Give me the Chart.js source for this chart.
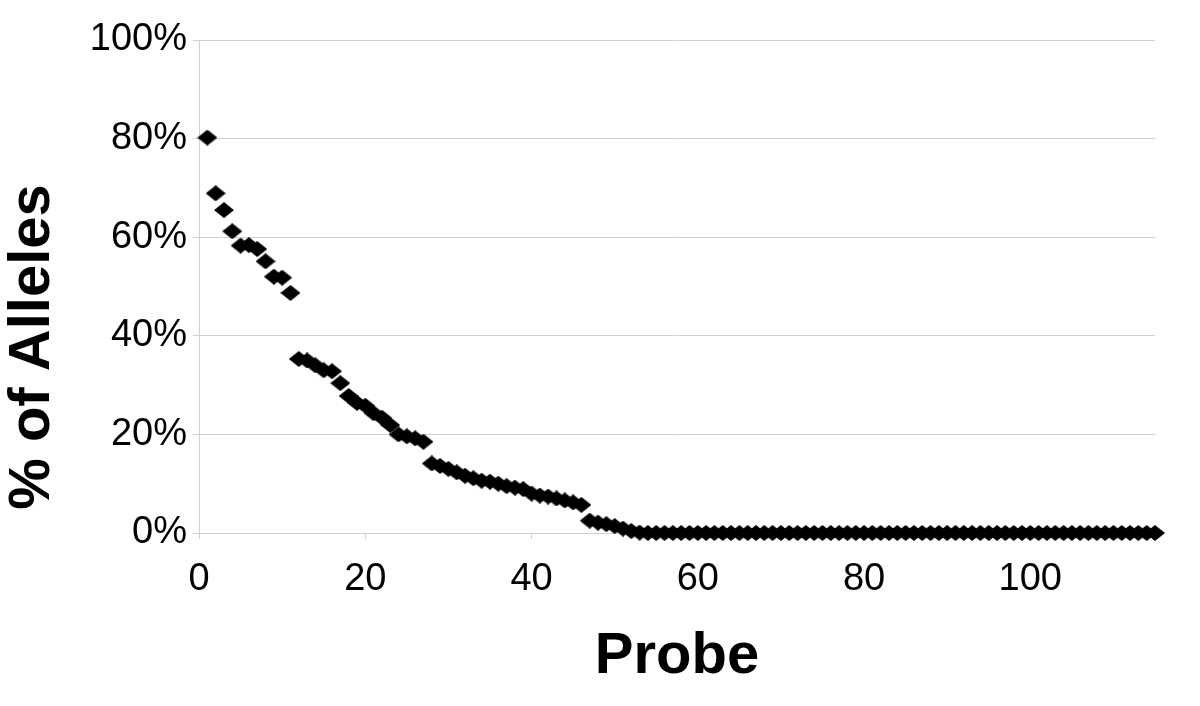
<!DOCTYPE html>
<html>
<head>
<meta charset="utf-8">
<script src="https://cdn.jsdelivr.net/npm/chart.js@4/dist/chart.umd.min.js"></script>
<style>
  body { margin: 0; background: #fff; }
  #wrap { width: 1200px; height: 706px; }
</style>
</head>
<body>
<div id="wrap"><canvas id="allelesChart" width="1200" height="706"></canvas></div>
<script>
// % of alleles detected by each probe, probes numbered 1..115 in order
const alleleValues = [
  80.2, 68.9, 65.5, 61.2, 58.3, 58.4, 57.6, 55.1, 52.0, 51.8,
  48.7, 35.3, 35.0, 34.0, 33.0, 32.8, 30.4, 27.8, 26.4, 25.8,
  24.3, 23.4, 21.9, 20.0, 19.6, 19.2, 18.5, 14.1, 13.6, 13.0,
  12.3, 11.6, 11.1, 10.6, 10.4, 10.0, 9.5, 9.2, 8.9, 8.0,
  7.6, 7.4, 7.0, 6.6, 6.2, 5.7, 2.5, 2.1, 1.8, 1.4,
  0.9, 0.4, 0.1, 0, 0, 0, 0, 0, 0, 0,
  0, 0, 0, 0, 0, 0, 0, 0, 0, 0,
  0, 0, 0, 0, 0, 0, 0, 0, 0, 0,
  0, 0, 0, 0, 0, 0, 0, 0, 0, 0,
  0, 0, 0, 0, 0, 0, 0, 0, 0, 0,
  0, 0, 0, 0, 0, 0, 0, 0, 0, 0,
  0, 0, 0, 0, 0
];
const xTicks = [0, 20, 40, 60, 80, 100];
const yTicks = [0, 20, 40, 60, 80, 100];
const xTitle = 'Probe';
const yTitle = '% of Alleles';

const FONT = "'Liberation Sans', Arial, sans-serif";
const GRID = '#d0d0d0';

// black diamond marker, a bit wider than tall like the original
const diamond = document.createElement('canvas');
diamond.width = 20;
diamond.height = 16;
const dctx = diamond.getContext('2d');
dctx.fillStyle = '#000';
dctx.beginPath();
dctx.moveTo(10, 0);
dctx.lineTo(20, 8);
dctx.lineTo(10, 16);
dctx.lineTo(0, 8);
dctx.closePath();
dctx.fill();

const points = alleleValues.map((v, i) => ({ x: i + 1, y: v }));

// rotated y axis title, placed like the original (a little below the plot centre)
const yTitlePlugin = {
  id: 'yTitle',
  afterDraw(chart) {
    const c = chart.ctx;
    c.save();
    c.translate(33, 347);
    c.rotate(-Math.PI / 2);
    c.font = 'bold 58px ' + FONT;
    c.fillStyle = '#000';
    c.textAlign = 'center';
    c.textBaseline = 'middle';
    c.fillText(yTitle, 0, 0);
    c.restore();
  }
};

new Chart(document.getElementById('allelesChart'), {
  type: 'scatter',
  data: {
    datasets: [{
      data: points,
      pointStyle: diamond,
      pointRadius: 9,
      pointHoverRadius: 9,
      clip: false
    }]
  },
  options: {
    responsive: false,
    devicePixelRatio: 1,
    animation: false,
    layout: { padding: { top: 40, right: 45, left: 0, bottom: 0 } },
    plugins: {
      legend: { display: false },
      tooltip: { enabled: false }
    },
    scales: {
      x: {
        type: 'linear',
        min: 0,
        max: 115,
        afterBuildTicks: (scale) => { scale.ticks = xTicks.map(v => ({ value: v })); },
        afterFit: (scale) => { scale.height = 173; },
        ticks: {
          color: '#000',
          font: { family: FONT, size: 38 },
          padding: 18,
          maxRotation: 0
        },
        grid: { display: true, drawOnChartArea: false, color: GRID, tickLength: 6 },
        border: { color: GRID },
        title: {
          display: true,
          text: xTitle,
          color: '#000',
          font: { family: FONT, size: 58, weight: 'bold' },
          padding: { top: 0, bottom: 14 }
        }
      },
      y: {
        min: 0,
        max: 100,
        afterBuildTicks: (scale) => { scale.ticks = yTicks.map(v => ({ value: v })); },
        afterFit: (scale) => { scale.width = 199; },
        ticks: {
          color: '#000',
          font: { family: FONT, size: 38 },
          padding: 6,
          callback: (v) => v + '%'
        },
        grid: { color: GRID, tickLength: 6 },
        border: { color: GRID }
      }
    }
  },
  plugins: [yTitlePlugin]
});
</script>
</body>
</html>
